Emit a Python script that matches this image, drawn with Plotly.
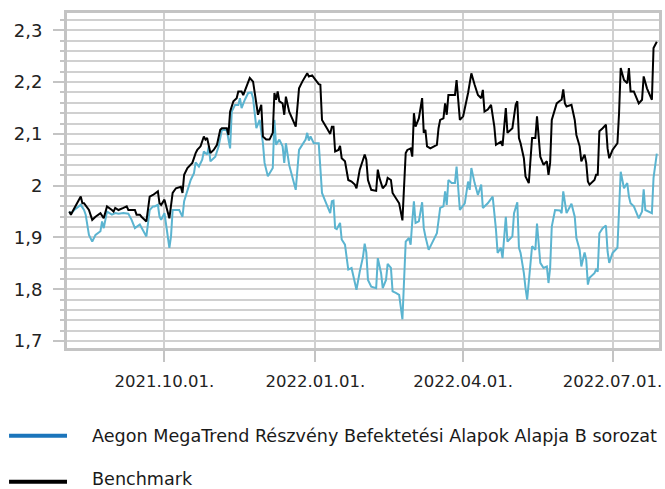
import plotly.graph_objects as go

fund_name = "Aegon MegaTrend Részvény Befektetési Alapok Alapja B sorozat"
bench_name = "Benchmark"

fund_dates = [
    "2021-08-04", "2021-08-05", "2021-08-07", "2021-08-11", "2021-08-13", "2021-08-14", "2021-08-16", "2021-08-18",
    "2021-08-20", "2021-08-23", "2021-08-24", "2021-08-25", "2021-08-26", "2021-08-27", "2021-08-30", "2021-09-01",
    "2021-09-03", "2021-09-06", "2021-09-09", "2021-09-11", "2021-09-13", "2021-09-16", "2021-09-20", "2021-09-22",
    "2021-09-24", "2021-09-25", "2021-09-27", "2021-09-28", "2021-09-29", "2021-10-01", "2021-10-02", "2021-10-04",
    "2021-10-05", "2021-10-06", "2021-10-10", "2021-10-12", "2021-10-13", "2021-10-15", "2021-10-17", "2021-10-19",
    "2021-10-20", "2021-10-22", "2021-10-24", "2021-10-25", "2021-10-27", "2021-10-28", "2021-10-29", "2021-11-01",
    "2021-11-03", "2021-11-05", "2021-11-08", "2021-11-10", "2021-11-11", "2021-11-13", "2021-11-15", "2021-11-16",
    "2021-11-17", "2021-11-19", "2021-11-21", "2021-11-23", "2021-11-24", "2021-11-26", "2021-11-28", "2021-11-30",
    "2021-12-01", "2021-12-03", "2021-12-06", "2021-12-07", "2021-12-08", "2021-12-10", "2021-12-12", "2021-12-13",
    "2021-12-14", "2021-12-16", "2021-12-18", "2021-12-20", "2021-12-22", "2021-12-24", "2021-12-26", "2021-12-27",
    "2021-12-28", "2021-12-29", "2021-12-31", "2022-01-03", "2022-01-05", "2022-01-07", "2022-01-09", "2022-01-10",
    "2022-01-11", "2022-01-12", "2022-01-13", "2022-01-14", "2022-01-16", "2022-01-17", "2022-01-19", "2022-01-21",
    "2022-01-23", "2022-01-24", "2022-01-26", "2022-01-28", "2022-01-30", "2022-01-31", "2022-02-01", "2022-02-02",
    "2022-02-04", "2022-02-07", "2022-02-08", "2022-02-10", "2022-02-11", "2022-02-13", "2022-02-14", "2022-02-16",
    "2022-02-17", "2022-02-19", "2022-02-21", "2022-02-23", "2022-02-24", "2022-02-25", "2022-02-27", "2022-02-28",
    "2022-03-01", "2022-03-02", "2022-03-03", "2022-03-05", "2022-03-07", "2022-03-08", "2022-03-09", "2022-03-11",
    "2022-03-16", "2022-03-18", "2022-03-20", "2022-03-21", "2022-03-22", "2022-03-23", "2022-03-25", "2022-03-27",
    "2022-03-28", "2022-03-30", "2022-04-02", "2022-04-03", "2022-04-04", "2022-04-05", "2022-04-06", "2022-04-08",
    "2022-04-10", "2022-04-12", "2022-04-13", "2022-04-16", "2022-04-19", "2022-04-21", "2022-04-22", "2022-04-24",
    "2022-04-25", "2022-04-27", "2022-04-28", "2022-05-01", "2022-05-02", "2022-05-04", "2022-05-05", "2022-05-06",
    "2022-05-08", "2022-05-09", "2022-05-10", "2022-05-13", "2022-05-15", "2022-05-16", "2022-05-18", "2022-05-20",
    "2022-05-22", "2022-05-23", "2022-05-24", "2022-05-25", "2022-05-27", "2022-05-30", "2022-05-31", "2022-06-01",
    "2022-06-03", "2022-06-06", "2022-06-08", "2022-06-09", "2022-06-11", "2022-06-12", "2022-06-14", "2022-06-15",
    "2022-06-16", "2022-06-17", "2022-06-20", "2022-06-21", "2022-06-22", "2022-06-23", "2022-06-25", "2022-06-27",
    "2022-06-28", "2022-06-29", "2022-07-01", "2022-07-04", "2022-07-05", "2022-07-06", "2022-07-08", "2022-07-10",
    "2022-07-11", "2022-07-12", "2022-07-14", "2022-07-17", "2022-07-19", "2022-07-20", "2022-07-21", "2022-07-25",
    "2022-07-26", "2022-07-28",
]
fund_values = [
    1.950, 1.946, 1.953, 1.963, 1.953, 1.944, 1.905, 1.892,
    1.905, 1.912, 1.931, 1.918, 1.934, 1.950, 1.944, 1.947,
    1.946, 1.947, 1.946, 1.934, 1.918, 1.925, 1.902, 1.953,
    1.960, 1.960, 1.963, 1.940, 1.934, 1.947, 1.925, 1.880,
    1.902, 1.953, 1.953, 1.940, 1.970, 1.989, 2.011, 2.024,
    2.045, 2.037, 2.050, 2.066, 2.060, 2.076, 2.047, 2.056,
    2.076, 2.108, 2.107, 2.072, 2.143, 2.156, 2.156, 2.169,
    2.150, 2.166, 2.179, 2.180, 2.169, 2.111, 2.127, 2.082,
    2.044, 2.018, 2.034, 2.127, 2.079, 2.089, 2.076, 2.044,
    2.082, 2.040, 2.018, 1.992, 2.069, 2.079, 2.089, 2.102,
    2.087, 2.095, 2.082, 2.082, 1.986, 1.970, 1.953, 1.947,
    1.970, 1.971, 1.918, 1.916, 1.928, 1.896, 1.886, 1.838,
    1.841, 1.828, 1.799, 1.834, 1.863, 1.888, 1.871, 1.818,
    1.805, 1.802, 1.860, 1.831, 1.802, 1.818, 1.849, 1.841,
    1.796, 1.793, 1.789, 1.742, 1.825, 1.892, 1.899, 1.886,
    1.931, 1.970, 1.928, 1.931, 1.968, 1.918, 1.902, 1.876,
    1.908, 1.957, 1.960, 1.989, 1.963, 2.011, 2.005, 2.005,
    2.037, 1.953, 1.966, 1.992, 2.008, 1.992, 2.034, 2.005,
    1.982, 2.002, 1.957, 1.966, 1.979, 1.915, 1.870, 1.880,
    1.860, 1.940, 1.892, 1.902, 1.947, 1.968, 1.880, 1.870,
    1.831, 1.802, 1.780, 1.883, 1.876, 1.927, 1.851, 1.841,
    1.844, 1.812, 1.841, 1.921, 1.953, 1.952, 1.947, 1.989,
    1.947, 1.965, 1.940, 1.899, 1.876, 1.844, 1.871, 1.857,
    1.809, 1.822, 1.831, 1.838, 1.834, 1.908, 1.918, 1.923,
    1.873, 1.851, 1.870, 1.880, 1.953, 2.027, 1.995, 2.005,
    1.979, 1.966, 1.960, 1.937, 1.950, 1.993, 1.953, 1.947,
    2.015, 2.062,
]

bench_dates = [
    "2021-08-04", "2021-08-05", "2021-08-06", "2021-08-09", "2021-08-11", "2021-08-12", "2021-08-13", "2021-08-16",
    "2021-08-18", "2021-08-20", "2021-08-23", "2021-08-25", "2021-08-27", "2021-08-30", "2021-08-31", "2021-09-01",
    "2021-09-03", "2021-09-06", "2021-09-08", "2021-09-09", "2021-09-13", "2021-09-14", "2021-09-16", "2021-09-17",
    "2021-09-20", "2021-09-22", "2021-09-24", "2021-09-27", "2021-09-28", "2021-09-29", "2021-10-01", "2021-10-04",
    "2021-10-05", "2021-10-06", "2021-10-08", "2021-10-11", "2021-10-12", "2021-10-13", "2021-10-15", "2021-10-18",
    "2021-10-20", "2021-10-21", "2021-10-23", "2021-10-25", "2021-10-26", "2021-10-27", "2021-10-29", "2021-10-31",
    "2021-11-02", "2021-11-04", "2021-11-05", "2021-11-08", "2021-11-09", "2021-11-10", "2021-11-12", "2021-11-14",
    "2021-11-15", "2021-11-17", "2021-11-18", "2021-11-20", "2021-11-22", "2021-11-24", "2021-11-26", "2021-11-27",
    "2021-11-29", "2021-11-30", "2021-12-02", "2021-12-04", "2021-12-06", "2021-12-07", "2021-12-08", "2021-12-09",
    "2021-12-10", "2021-12-12", "2021-12-13", "2021-12-14", "2021-12-16", "2021-12-18", "2021-12-20", "2021-12-22",
    "2021-12-24", "2021-12-27", "2021-12-28", "2021-12-30", "2022-01-01", "2022-01-03", "2022-01-04", "2022-01-05",
    "2022-01-08", "2022-01-10", "2022-01-11", "2022-01-12", "2022-01-13", "2022-01-15", "2022-01-16", "2022-01-17",
    "2022-01-19", "2022-01-21", "2022-01-23", "2022-01-25", "2022-01-26", "2022-01-28", "2022-01-30", "2022-01-31",
    "2022-02-01", "2022-02-02", "2022-02-04", "2022-02-07", "2022-02-08", "2022-02-09", "2022-02-11", "2022-02-13",
    "2022-02-14", "2022-02-16", "2022-02-17", "2022-02-19", "2022-02-21", "2022-02-23", "2022-02-24", "2022-02-25",
    "2022-02-26", "2022-02-28", "2022-03-01", "2022-03-02", "2022-03-03", "2022-03-05", "2022-03-07", "2022-03-08",
    "2022-03-09", "2022-03-10", "2022-03-12", "2022-03-16", "2022-03-17", "2022-03-18", "2022-03-20", "2022-03-21",
    "2022-03-22", "2022-03-23", "2022-03-27", "2022-03-28", "2022-03-30", "2022-04-01", "2022-04-04", "2022-04-06",
    "2022-04-08", "2022-04-10", "2022-04-12", "2022-04-13", "2022-04-14", "2022-04-16", "2022-04-18", "2022-04-20",
    "2022-04-21", "2022-04-24", "2022-04-25", "2022-04-27", "2022-04-28", "2022-05-01", "2022-05-03", "2022-05-04",
    "2022-05-05", "2022-05-06", "2022-05-08", "2022-05-09", "2022-05-11", "2022-05-13", "2022-05-15", "2022-05-16",
    "2022-05-18", "2022-05-20", "2022-05-21", "2022-05-22", "2022-05-23", "2022-05-24", "2022-05-25", "2022-05-28",
    "2022-05-30", "2022-05-31", "2022-06-01", "2022-06-02", "2022-06-03", "2022-06-06", "2022-06-08", "2022-06-09",
    "2022-06-11", "2022-06-12", "2022-06-14", "2022-06-15", "2022-06-16", "2022-06-17", "2022-06-20", "2022-06-21",
    "2022-06-22", "2022-06-23", "2022-06-25", "2022-06-27", "2022-06-28", "2022-06-29", "2022-07-01", "2022-07-04",
    "2022-07-05", "2022-07-06", "2022-07-08", "2022-07-10", "2022-07-11", "2022-07-12", "2022-07-14", "2022-07-17",
    "2022-07-19", "2022-07-20", "2022-07-22", "2022-07-25", "2022-07-26", "2022-07-28",
]
bench_values = [
    1.950, 1.944, 1.950, 1.966, 1.979, 1.966, 1.966, 1.953,
    1.934, 1.940, 1.947, 1.937, 1.960, 1.953, 1.950, 1.957,
    1.953, 1.957, 1.960, 1.953, 1.953, 1.944, 1.944, 1.940,
    1.931, 1.979, 1.982, 1.989, 1.966, 1.963, 1.973, 1.937,
    1.957, 1.986, 1.995, 1.998, 1.986, 2.021, 2.034, 2.044,
    2.063, 2.069, 2.076, 2.095, 2.089, 2.092, 2.063, 2.069,
    2.079, 2.108, 2.111, 2.111, 2.098, 2.143, 2.163, 2.169,
    2.182, 2.182, 2.175, 2.192, 2.208, 2.201, 2.153, 2.137,
    2.156, 2.095, 2.089, 2.089, 2.102, 2.179, 2.166, 2.182,
    2.163, 2.159, 2.137, 2.172, 2.143, 2.127, 2.114, 2.188,
    2.201, 2.217, 2.211, 2.213, 2.204, 2.196, 2.195, 2.127,
    2.111, 2.100, 2.114, 2.114, 2.066, 2.069, 2.077, 2.053,
    2.047, 2.011, 2.008, 2.002, 1.995, 2.031, 2.050, 2.060,
    2.050, 2.011, 1.992, 1.990, 2.031, 2.015, 1.995, 2.002,
    2.015, 2.011, 1.986, 1.976, 1.966, 1.933, 1.998, 2.063,
    2.069, 2.072, 2.056, 2.140, 2.114, 2.130, 2.169, 2.102,
    2.108, 2.076, 2.072, 2.079, 2.111, 2.127, 2.130, 2.159,
    2.137, 2.175, 2.175, 2.204, 2.127, 2.134, 2.179, 2.217,
    2.195, 2.175, 2.169, 2.185, 2.143, 2.147, 2.156, 2.114,
    2.079, 2.085, 2.077, 2.150, 2.102, 2.111, 2.156, 2.163,
    2.092, 2.082, 2.053, 2.018, 2.005, 2.092, 2.092, 2.134,
    2.056, 2.040, 2.044, 2.047, 2.021, 2.044, 2.127, 2.159,
    2.164, 2.166, 2.186, 2.159, 2.153, 2.156, 2.127, 2.098,
    2.076, 2.047, 2.060, 2.044, 2.008, 2.002, 2.011, 2.021,
    2.021, 2.105, 2.111, 2.118, 2.072, 2.053, 2.069, 2.082,
    2.140, 2.227, 2.204, 2.198, 2.227, 2.182, 2.182, 2.159,
    2.166, 2.211, 2.188, 2.166, 2.266, 2.278,
]

x_tick_dates = ["2021-10-01", "2022-01-01", "2022-04-01", "2022-07-01"]
x_tick_labels = ["2021.10.01.", "2022.01.01.", "2022.04.01.", "2022.07.01."]

FUND_LINE = "#5bb4d0"
FUND_LEGEND = "#1b75bb"
GRID = "#d0d0d0"
AXIS = "#c4c4c4"

fig = go.Figure()
fig.add_trace(go.Scatter(x=fund_dates, y=fund_values, mode="lines", name=fund_name,
                         line=dict(color=FUND_LINE, width=2), showlegend=False))
fig.add_trace(go.Scatter(x=bench_dates, y=bench_values, mode="lines", name=bench_name,
                         line=dict(color="#000000", width=2), showlegend=False))

W, H = 665, 489
ml, mr, mt, mb = 67, 5.5, 12.5, 141
pw, ph = W - ml - mr, H - mt - mb

def px_to_paper_x(px):
    return (px - ml) / pw

def px_to_paper_y(py):
    return (H - mb - py) / ph

legend_items = [(fund_name, FUND_LEGEND, 436, 436), (bench_name, "#000000", 482, 479.5)]
for label, color, py_line, py_text in legend_items:
    fig.add_shape(type="line", xref="paper", yref="paper",
                  x0=px_to_paper_x(9), x1=px_to_paper_x(67),
                  y0=px_to_paper_y(py_line), y1=px_to_paper_y(py_line),
                  line=dict(color=color, width=4))
    fig.add_annotation(xref="paper", yref="paper", x=px_to_paper_x(91), y=px_to_paper_y(py_text),
                       text=label, showarrow=False, xanchor="left", yanchor="middle", borderpad=0,
                       font=dict(family="DejaVu Sans", size=17.6, color="#1a1a1a"))

fig.update_layout(
    width=W, height=H,
    margin=dict(l=ml, r=mr, t=mt, b=mb, autoexpand=False),
    plot_bgcolor="white", paper_bgcolor="white",
    separators=", ",
    showlegend=False,
    font=dict(family="DejaVu Sans", color="#222222"),
)
fig.update_xaxes(
    type="date", automargin=False,
    range=["2021-08-02 15:00", "2022-07-29 08:00"],
    tickmode="array", tickvals=x_tick_dates, ticktext=x_tick_labels,
    showgrid=True, gridcolor=GRID, gridwidth=2,
    ticks="outside", ticklen=11, tickwidth=2, tickcolor=AXIS,
    showline=True, linecolor=AXIS, linewidth=3, mirror=True,
    tickfont=dict(family="DejaVu Sans", size=16.5, color="#222222"),
    ticklabelstandoff=5,
    zeroline=False,
)
fig.update_yaxes(
    automargin=False,
    range=[1.6865, 2.3335],
    tickmode="linear", tick0=1.7, dtick=0.1,
    showgrid=True, gridcolor=GRID, gridwidth=2,
    ticks="outside", ticklen=11, tickwidth=2, tickcolor=AXIS,
    minor=dict(dtick=0.02, tick0=1.7, showgrid=True, gridcolor=GRID, gridwidth=2,
               ticks="outside", ticklen=4, tickwidth=2, tickcolor=AXIS),
    showline=True, linecolor=AXIS, linewidth=3, mirror=True,
    tickfont=dict(family="DejaVu Sans", size=18, color="#222222"),
    ticklabelstandoff=7,
    zeroline=False,
)

fig.write_html("out.html", config={"displayModeBar": False},
               post_script="document.body.style.margin='0px';document.body.style.padding='0px';")
